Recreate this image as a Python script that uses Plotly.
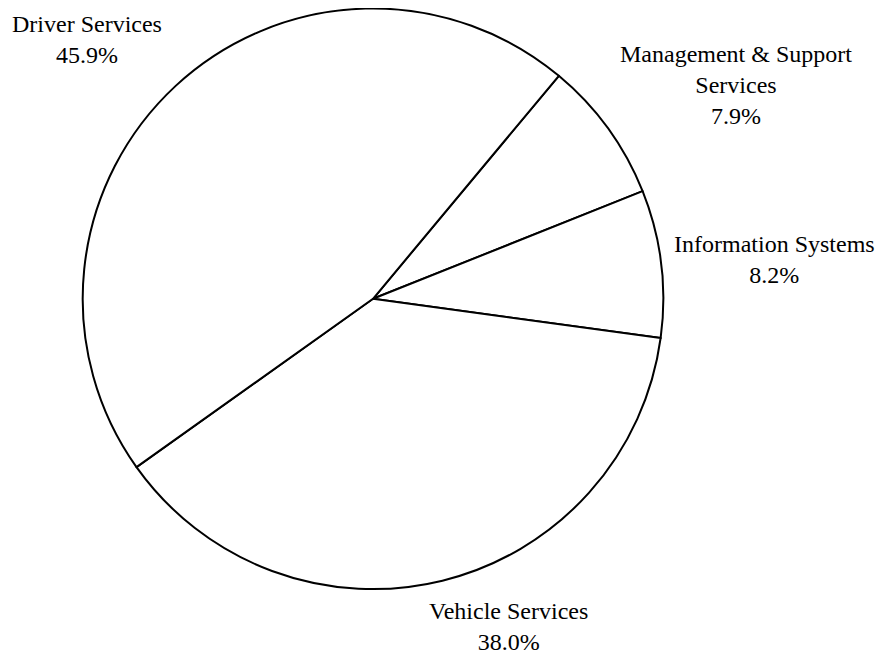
import plotly.graph_objects as go

# slices, clockwise from the Management slice
labels = ['Management & Support Services', 'Information Systems',
          'Vehicle Services', 'Driver Services']
values = [7.9, 8.2, 38.0, 45.9]
# how each label is broken over lines
label_lines = ['Management & Support<br>Services', 'Information Systems',
               'Vehicle Services', 'Driver Services']

# the page body has an 8px margin, so the figure is a bit smaller than the window
OFF = 8
W, H = 884 - OFF, 658 - OFF


def px_x(x):
    return (x - OFF) / W


def px_y(y):
    return 1 - (y - OFF) / H


fig = go.Figure(go.Pie(
    labels=labels,
    values=values,
    sort=False,
    direction='clockwise',
    rotation=39.8,
    textinfo='none',
    hoverinfo='label+percent',
    marker=dict(colors=['white'] * len(values),
                line=dict(color='black', width=2)),
    domain=dict(x=[px_x(82.7), px_x(663.3)], y=[px_y(589.1), px_y(8.5)]),
    showlegend=False,
))

# label block centres in window pixels
label_pos = [(736, 85), (774, 259), (508, 626), (87, 40)]

for name, v, (x, y) in zip(label_lines, values, label_pos):
    fig.add_annotation(
        x=px_x(x), y=px_y(y), xref='paper', yref='paper',
        xanchor='center', yanchor='middle', showarrow=False,
        text=f'{name}<br>{v:.1f}%', align='center',
        font=dict(family='Liberation Serif, Times New Roman, serif', size=24, color='black'),
    )

fig.update_layout(
    width=W, height=H,
    margin=dict(l=0, r=0, t=0, b=0),
    paper_bgcolor='white', plot_bgcolor='white',
)

fig.write_html('out.html')
